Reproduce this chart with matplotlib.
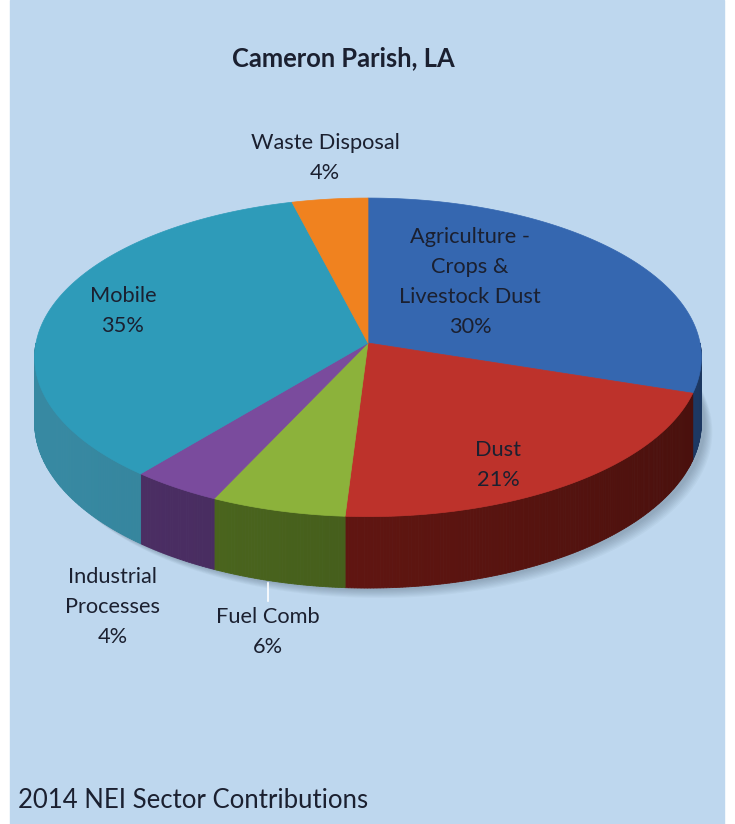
import numpy as np
import matplotlib
matplotlib.use("Agg")
import matplotlib.pyplot as plt
from matplotlib.patches import Polygon, Rectangle
from matplotlib.colors import to_rgb

plt.rcParams['font.family'] = ['Lato', 'DejaVu Sans']

sectors = ['Agriculture -\nCrops &\nLivestock Dust', 'Dust', 'Fuel Comb',
           'Industrial\nProcesses', 'Mobile', 'Waste Disposal']
shares = [30, 21, 6, 4, 35, 4]
top_colors = ['#3567b0', '#bd322b', '#8cb23b', '#7a4b9d', '#2e9bb9', '#f0821f']
side_colors = ['#2b5493', '#6c1813', '#4e6a1f', '#4d2f66', '#3789a2', '#b05a10']
label_xy = [(470, 282), (498, 465), (268, 632), (113, 607), (123, 311), (325, 158)]

title = 'Cameron Parish, LA'
footer = '2014 NEI Sector Contributions'
text_color = '#1b2030'

# tilted disc, seen in slight perspective (far edge shrinks)
CX, CY = 368, 343
RX, RY = 332, 158
PERSP = 0.09
DEPTH = 65


def project(th_deg, drop=0.0):
    th = np.radians(th_deg)
    u, v = np.cos(th), np.sin(th)
    s = 1.0 / (1.0 + PERSP * v)
    return CX + RX * u * s, CY - RY * v * s + drop * s


def side_shade(th_deg):
    # darker towards the right-hand side of the rim
    return 0.82 + 0.18 * np.cos(np.radians(th_deg - 200))


fig = plt.figure(figsize=(7.35, 8.24), dpi=100)
fig.patch.set_facecolor('white')
ax = fig.add_axes([0, 0, 1, 1])
ax.set_xlim(0, 735)
ax.set_ylim(824, 0)
ax.axis('off')

ax.add_patch(Rectangle((10, 0), 714, 824, color='#bed7ee', zorder=0))

# soft shadow under the disc
ring = np.linspace(-180, 180, 361)
for k in range(8):
    sx, sy = project(ring, DEPTH + 2 + k)
    ax.add_patch(Polygon(np.column_stack([sx + 4 + k, sy]), closed=True,
                         color='#203040', alpha=0.035, lw=0, zorder=1))

total = float(sum(shares))
bounds = 90 - 360 * np.concatenate([[0], np.cumsum(shares)]) / total

# rim of each slice (only the front half is visible)
for i in range(len(shares)):
    start, end = bounds[i], bounds[i + 1]
    for k in (-1, 0, 1):
        lo = max(end, -180 + 360 * k)
        hi = min(start, 0 + 360 * k)
        if hi <= lo:
            continue
        edges = np.linspace(lo, hi, max(2, int((hi - lo) * 2) + 1))
        base = np.array(to_rgb(side_colors[i]))
        for a0, a1 in zip(edges[:-1], edges[1:]):
            x0, y0 = project(a0)
            x1, y1 = project(a1)
            x0b, y0b = project(a0, DEPTH)
            x1b, y1b = project(a1, DEPTH)
            c = np.clip(base * side_shade(0.5 * (a0 + a1)), 0, 1)
            ax.add_patch(Polygon([(x0, y0), (x1, y1), (x1b, y1b), (x0b, y0b)],
                                 closed=True, facecolor=c, edgecolor=c,
                                 lw=0.6, zorder=2))

# top face of each slice
for i in range(len(shares)):
    start, end = bounds[i], bounds[i + 1]
    arc = np.linspace(start, end, max(2, int(abs(start - end) * 2)))
    px, py = project(arc)
    pts = np.vstack([[CX, CY], np.column_stack([px, py])])
    ax.add_patch(Polygon(pts, closed=True, facecolor=top_colors[i],
                         edgecolor=top_colors[i], lw=0.5, zorder=3))

# data labels
for name, val, (lx, ly) in zip(sectors, shares, label_xy):
    ax.text(lx, ly, f'{name}\n{val}%', ha='center', va='center',
            fontsize=15.7, color=text_color, linespacing=1.62, zorder=5)

# leader line for the Fuel Comb label
ax.plot([268, 268], [583, 601], color='white', lw=1.2, zorder=4)

ax.text(343, 58, title, ha='center', va='center', fontsize=18.4,
        fontweight='bold', color=text_color)
ax.text(18, 800, footer, ha='left', va='center', fontsize=18.5,
        color=text_color)

fig.savefig('out.png', dpi=100, facecolor=fig.get_facecolor())
